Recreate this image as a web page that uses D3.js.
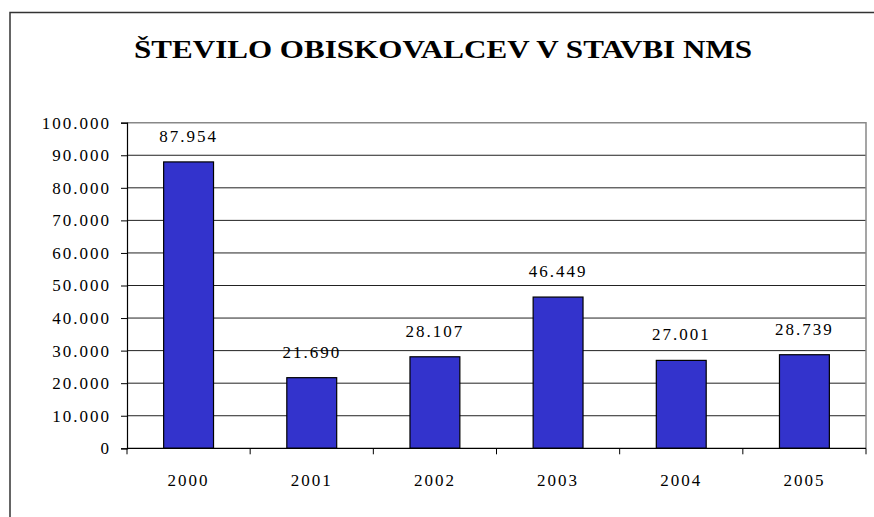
<!DOCTYPE html>
<html lang="sl">
<head>
<meta charset="UTF-8">
<title>Število obiskovalcev v stavbi NMS</title>
<script src="https://cdn.jsdelivr.net/npm/d3@7"></script>
<style>
  body { margin: 0; background: #fff; }
  svg text { font-family: "Liberation Serif", "DejaVu Serif", "Times New Roman", Times, serif; }
</style>
</head>
<body>
<script>
var years = ["2000", "2001", "2002", "2003", "2004", "2005"];
var visitors = [87954, 21690, 28107, 46449, 27001, 28739];
var yTicks = [0, 10000, 20000, 30000, 40000, 50000, 60000, 70000, 80000, 90000, 100000];
var title = "ŠTEVILO OBISKOVALCEV V STAVBI NMS";

var w = 874, h = 517;
var plotL = 127, plotR = 866, plotT = 122.7, plotB = 448.3;
var labelSize = "17px", labelSpacing = "2px";

var sl = d3.formatLocale({decimal: ",", thousands: ".", grouping: [3], currency: ["", " €"]});
var fmt = sl.format(",");

var svg = d3.select("body").append("svg")
    .attr("width", w)
    .attr("height", h);

// outer chart frame (runs off the picture right and bottom)
svg.append("rect")
    .attr("x", 10).attr("y", 12.5)
    .attr("width", 900).attr("height", 600)
    .attr("fill", "none")
    .attr("stroke", "#333")
    .attr("stroke-width", 1.5);

var t = svg.append("text")
    .attr("x", 443).attr("y", 58)
    .attr("text-anchor", "middle")
    .attr("font-size", "26px")
    .attr("font-weight", "bold")
    .text(title);
// stretch to the width it has in the original
t.attr("textLength", 618).attr("lengthAdjust", "spacingAndGlyphs");

var x = d3.scaleBand().domain(years).range([plotL, plotR]).paddingInner(0.595).paddingOuter(0.2975);
var xb = d3.scaleBand().domain(years).range([plotL, plotR]);
var y = d3.scaleLinear().domain([0, 100000]).range([plotB, plotT]);

// gridlines
svg.selectAll("line.grid")
    .data(yTicks.filter(function (d) { return d > 0 && d < 100000; }))
    .enter().append("line")
    .attr("class", "grid")
    .attr("x1", plotL).attr("x2", plotR)
    .attr("y1", function (d) { return y(d); })
    .attr("y2", function (d) { return y(d); })
    .attr("stroke", "#222")
    .attr("stroke-width", 1);

// gray top and right of plot area
svg.append("path")
    .attr("d", "M" + plotL + "," + y(100000) + "H" + plotR + "V" + plotB)
    .attr("fill", "none")
    .attr("stroke", "#888")
    .attr("stroke-width", 1.5);

// bars
svg.selectAll("rect.bar")
    .data(visitors)
    .enter().append("rect")
    .attr("class", "bar")
    .attr("x", function (d, i) { return x(years[i]); })
    .attr("width", x.bandwidth())
    .attr("y", function (d) { return y(d); })
    .attr("height", function (d) { return plotB - y(d); })
    .attr("fill", "#3333cc")
    .attr("stroke", "#000")
    .attr("stroke-width", 1.2);

// value labels
svg.selectAll("text.val")
    .data(visitors)
    .enter().append("text")
    .attr("class", "val")
    .attr("x", function (d, i) { return xb(years[i]) + xb.bandwidth() / 2; })
    .attr("y", function (d) { return y(d) - 20; })
    .attr("text-anchor", "middle")
    .attr("font-size", labelSize)
    .attr("letter-spacing", labelSpacing)
    .text(function (d) { return fmt(d); });

// y axis
var yAxis = d3.axisLeft(y).tickValues(yTicks).tickFormat(fmt).tickSize(6).tickPadding(10);
var gy = svg.append("g").attr("transform", "translate(" + plotL + ",0)").call(yAxis);
gy.attr("font-family", null).attr("font-size", labelSize);
gy.select(".domain").attr("stroke", "#000").attr("stroke-width", 1.2);
gy.selectAll(".tick line").attr("stroke", "#000");
gy.selectAll(".tick text").attr("fill", "#000").attr("letter-spacing", labelSpacing);

// x axis with ticks between categories
var gx = svg.append("g").attr("transform", "translate(0," + plotB + ")");
gx.append("line")
    .attr("x1", plotL).attr("x2", plotR)
    .attr("stroke", "#000").attr("stroke-width", 1.2);
var bounds = years.map(function (d) { return xb(d); }).concat([plotR]);
gx.selectAll("line.tk")
    .data(bounds)
    .enter().append("line")
    .attr("class", "tk")
    .attr("x1", function (d) { return d; })
    .attr("x2", function (d) { return d; })
    .attr("y1", 0).attr("y2", 6)
    .attr("stroke", "#000");
gx.selectAll("text")
    .data(years)
    .enter().append("text")
    .attr("x", function (d) { return xb(d) + xb.bandwidth() / 2; })
    .attr("y", 38)
    .attr("text-anchor", "middle")
    .attr("font-size", labelSize)
    .attr("letter-spacing", labelSpacing)
    .text(function (d) { return d; });
</script>
</body>
</html>
